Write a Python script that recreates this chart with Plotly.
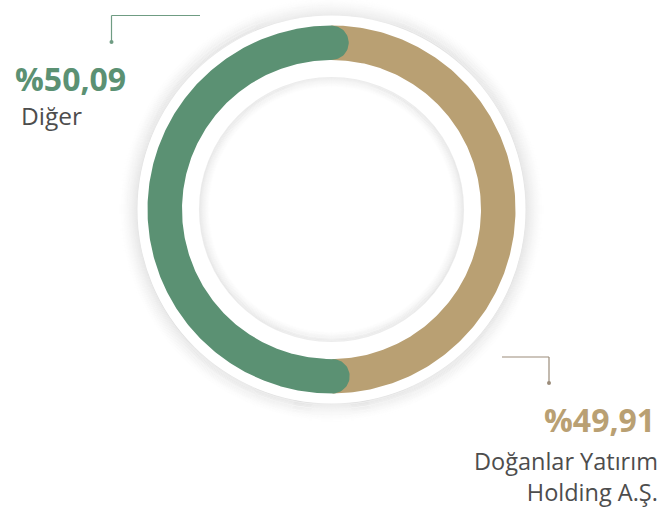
import numpy as np
import plotly.graph_objects as go

# ---- data ----
labels = ["Diğer", "Doğanlar Yatırım<br>Holding A.Ş."]
values = [50.09, 49.91]
pct_text = ["%50,09", "%49,91"]
colors = ["#5b9173", "#b9a073"]

W, H = 664, 507
cx, cy = 331.5, 209.5
R_out, R_in = 184.0, 149.5
R_white = 194.0
R_disc = 132.0

fig = go.Figure()
shapes = []

# outer drop shadow of the white ring
for k in range(20):
    a = 0.085 * (1 - k / 20) ** 1.6
    r = R_white + k
    shapes.append(dict(type="circle", xref="x", yref="y", x0=cx - r, x1=cx + r, y0=cy - r, y1=cy + r,
                       line=dict(color=f"rgba(0,0,0,{a:.4f})", width=1.2), fillcolor="rgba(0,0,0,0)", layer="below"))
# white ring
shapes.append(dict(type="circle", xref="x", yref="y", x0=cx - R_white, x1=cx + R_white,
                   y0=cy - R_white, y1=cy + R_white, line=dict(width=0), fillcolor="white", layer="below"))

total = sum(values)
sweep_g = values[0] / total * 2 * np.pi
ts = -np.pi / 2
te = ts - sweep_g
w = (R_out - R_in) / 2
Rm = (R_out + R_in) / 2

# tan segment (rest of ring)
th = np.linspace(te, ts - 2 * np.pi, 200)
xs = np.concatenate([cx + R_out * np.cos(th), cx + R_in * np.cos(th[::-1])])
ys = np.concatenate([cy + R_out * np.sin(th), cy + R_in * np.sin(th[::-1])])
fig.add_trace(go.Scatter(x=xs, y=ys, fill="toself", fillcolor=colors[1], line=dict(width=0),
                         mode="lines", hoverinfo="skip", showlegend=False))

# green segment with round caps
th = np.linspace(ts, te, 300)
ox, oy = cx + R_out * np.cos(th), cy + R_out * np.sin(th)
ix, iy = cx + R_in * np.cos(th[::-1]), cy + R_in * np.sin(th[::-1])
phi = np.linspace(0, np.pi, 40)
u = np.array([np.cos(te), np.sin(te)]); t = np.array([np.sin(te), -np.cos(te)])
C = np.array([cx, cy]) + Rm * u
ecx = C[0] + w * (u[0] * np.cos(phi) + t[0] * np.sin(phi))
ecy = C[1] + w * (u[1] * np.cos(phi) + t[1] * np.sin(phi))
u = np.array([np.cos(ts), np.sin(ts)]); t = -np.array([np.sin(ts), -np.cos(ts)])
C = np.array([cx, cy]) + Rm * u
scx = C[0] + w * (-u[0] * np.cos(phi) + t[0] * np.sin(phi))
scy = C[1] + w * (-u[1] * np.cos(phi) + t[1] * np.sin(phi))
xs = np.concatenate([ox, ecx, ix, scx])
ys = np.concatenate([oy, ecy, iy, scy])
fig.add_trace(go.Scatter(x=xs, y=ys, fill="toself", fillcolor=colors[0], line=dict(width=0),
                         mode="lines", hoverinfo="skip", showlegend=False))

# inner disc with inset shadow
for k in range(12):
    a = 0.075 * (1 - k / 12) ** 1.5
    r = R_disc - k
    shapes.append(dict(type="circle", xref="x", yref="y", x0=cx - r, x1=cx + r, y0=cy - r, y1=cy + r,
                       line=dict(color=f"rgba(0,0,0,{a:.4f})", width=1.2), fillcolor="rgba(0,0,0,0)", layer="above"))

# leader lines
lc1, lc2 = "#6f9c83", "#9b8c7a"
shapes += [
    dict(type="line", xref="x", yref="y", x0=111.5, x1=200, y0=15.5, y1=15.5, line=dict(color=lc1, width=1.2)),
    dict(type="line", xref="x", yref="y", x0=111.5, x1=111.5, y0=15.5, y1=42, line=dict(color=lc1, width=1.2)),
    dict(type="circle", xref="x", yref="y", x0=109.5, x1=113.5, y0=40, y1=44, line=dict(width=0), fillcolor=lc1),
    dict(type="line", xref="x", yref="y", x0=502, x1=549, y0=357, y1=357, line=dict(color=lc2, width=1.2)),
    dict(type="line", xref="x", yref="y", x0=549, x1=549, y0=357, y1=383, line=dict(color=lc2, width=1.2)),
    dict(type="circle", xref="x", yref="y", x0=547, x1=551, y0=381, y1=385, line=dict(width=0), fillcolor=lc2),
]

annotations = [
    dict(x=13, y=78, text=f"<b>{pct_text[0]}</b>", xanchor="left", yanchor="middle", showarrow=False,
         font=dict(family="Open Sans", size=32, color=colors[0])),
    dict(x=19, y=115, text=labels[0], xanchor="left", yanchor="middle", showarrow=False,
         font=dict(family="Open Sans", size=24.5, color="#4d4d4d")),
    dict(x=657, y=419, text=f"<b>{pct_text[1]}</b>", xanchor="right", yanchor="middle", showarrow=False,
         font=dict(family="Open Sans", size=32, color=colors[1])),
    dict(x=660, y=476, text=labels[1], xanchor="right", yanchor="middle", showarrow=False, align="right",
         font=dict(family="Open Sans", size=23.5, color="#4d4d4d")),
]

fig.update_layout(
    width=W, height=H, margin=dict(l=0, r=0, t=0, b=0),
    paper_bgcolor="white", plot_bgcolor="white",
    xaxis=dict(range=[0, W], visible=False, fixedrange=True),
    yaxis=dict(range=[H, 0], visible=False, fixedrange=True),
    shapes=shapes, annotations=annotations, showlegend=False,
)
fig.write_html("out.html", config={"displayModeBar": False},
               post_script="document.body.style.margin='0';document.body.style.overflow='hidden';")
